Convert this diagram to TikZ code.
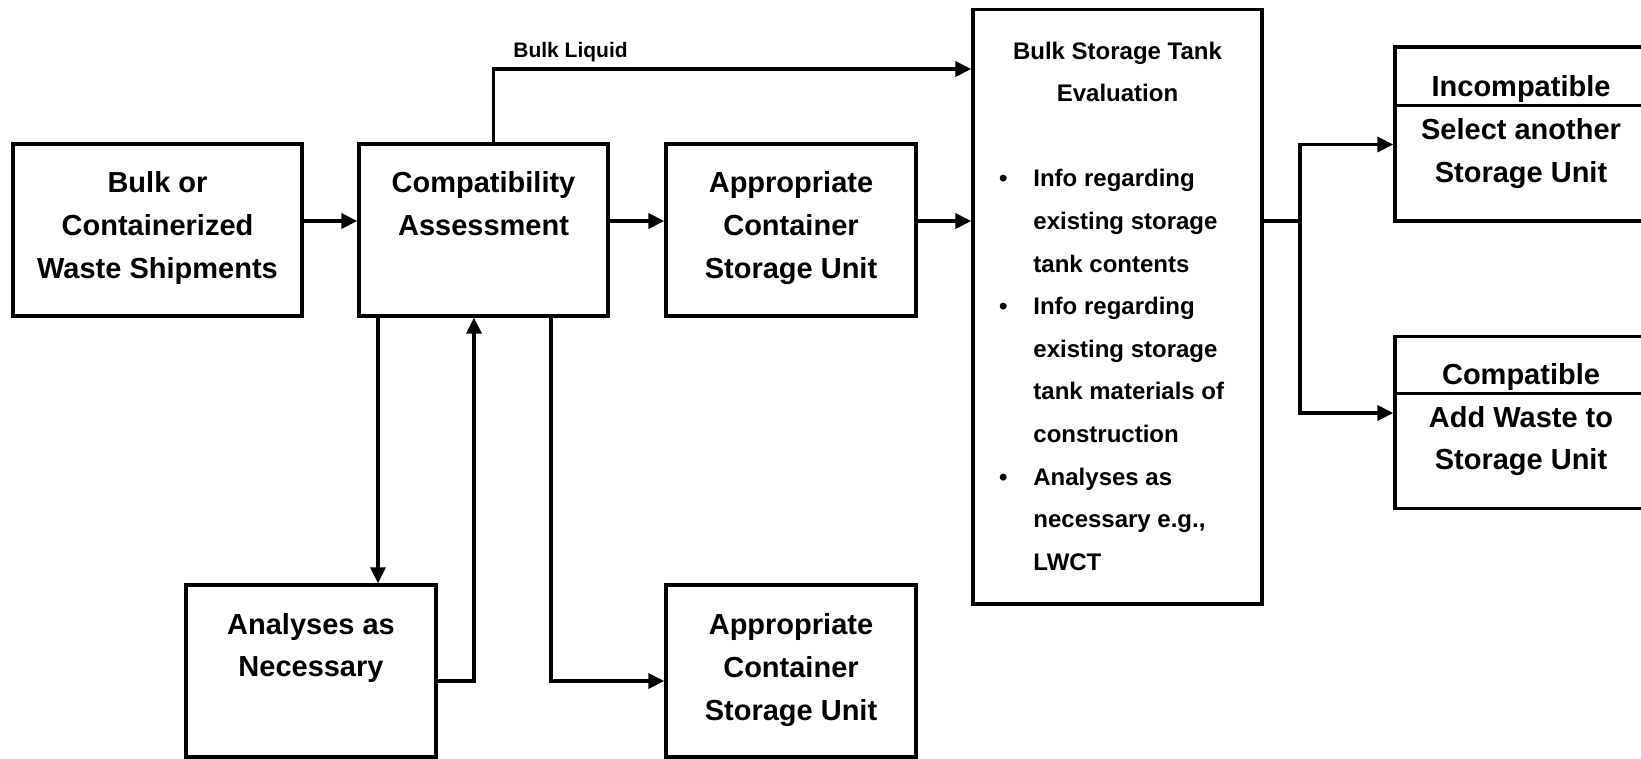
\documentclass[tikz,border=0pt]{standalone}
\usepackage{fontspec}
\setmainfont{Liberation Sans}
\usetikzlibrary{arrows.meta}
\newcommand\mystrut{\strut}
\begin{document}
\begin{tikzpicture}[x=0.5pt,y=-0.5pt,
  box/.style={draw, line width=1.65pt, rectangle, inner sep=0pt},
  big/.style={font=\fontsize{14.5pt}{21.35pt}\selectfont\bfseries, align=center, inner sep=0pt},
  mid/.style={font=\fontsize{12pt}{21.3pt}\selectfont\bfseries, inner sep=0pt},
  small/.style={font=\fontsize{10.5pt}{13pt}\selectfont\bfseries, inner sep=0pt},
  conn/.style={line width=1.7pt},
  arr/.style={conn, -{Triangle[length=8pt,width=7.5pt]}},
]
\useasboundingbox (0,0) rectangle (1641,759);

% boxes
\node[box, minimum width=144.5pt, minimum height=86pt] (b1) at (157.5,230) {};
\node[box, minimum width=124.5pt, minimum height=86pt] (ca) at (483.5,230) {};
\node[box, minimum width=125pt, minimum height=86pt] (ap1) at (791,230) {};
\node[box, minimum width=125pt, minimum height=86pt] (ap2) at (791,671) {};
\node[box, minimum width=125pt, minimum height=86pt] (an) at (311,671) {};
\node[box, minimum width=144.5pt, minimum height=297.3pt] (bst) at (1117.5,306.7) {};
\node[box, minimum width=126pt, minimum height=87pt] (inc) at (1521,134) {};
\node[box, minimum width=126pt, minimum height=86pt] (cmp) at (1521,422.5) {};

% helper coordinates
\coordinate (yrow) at (0,221);
\coordinate (ydivA) at (0,105.7);
\coordinate (ydivB) at (0,393.5);
\coordinate (yinc) at (0,144.5);
\coordinate (ycmp) at (0,413);
\coordinate (jn) at (1300,221);
\coordinate (xbl) at (493.4,69);
\coordinate (xdown) at (378,0);
\coordinate (xup) at (474,681);
\coordinate (xside) at (551,681);

% dividers
\draw[line width=1.65pt] (inc.west |- ydivA) -- (inc.east |- ydivA);
\draw[line width=1.65pt] (cmp.west |- ydivB) -- (cmp.east |- ydivB);

% texts
\node[big] (t1) at (157.5,227) {\mystrut Bulk or\\\mystrut Containerized\\\mystrut Waste Shipments};
\node[big] (tca) at (483.5,205.5) {\mystrut Compatibility\\\mystrut Assessment};
\node[big] (tap1) at (791,227) {\mystrut Appropriate\\\mystrut Container\\\mystrut Storage Unit};
\node[big] (tan) at (311,647) {\mystrut Analyses as\\\mystrut Necessary};
\node[big] (tap2) at (791,669) {\mystrut Appropriate\\\mystrut Container\\\mystrut Storage Unit};
\node[big] (tinch) at (1521,88) {\mystrut Incompatible};
\node[big] (tincb) at (1521,152.3) {\mystrut Select another\\\mystrut Storage Unit};
\node[big] (tcmph) at (1521,375.6) {\mystrut Compatible};
\node[big] (tcmpb) at (1521,440) {\mystrut Add Waste to\\\mystrut Storage Unit};
\node[mid, align=center] (tbst) at (1117.5,72) {\mystrut Bulk Storage Tank\\\mystrut Evaluation};
\node[mid, align=left, anchor=west] (tlist) at (1033,370) {%
\mystrut\llap{\textbullet\hspace{13pt}}Info regarding\\
\mystrut existing storage\\
\mystrut tank contents\\
\mystrut\llap{\textbullet\hspace{13pt}}Info regarding\\
\mystrut existing storage\\
\mystrut tank materials of\\
\mystrut construction\\
\mystrut\llap{\textbullet\hspace{13pt}}Analyses as\\
\mystrut necessary e.g.,\\
\mystrut LWCT};
\node[small, anchor=west] (tbl) at (513,52) {Bulk Liquid};

% connectors
\draw[arr] (b1.east |- yrow) -- (ca.west |- yrow);
\draw[arr] (ca.east |- yrow) -- (ap1.west |- yrow);
\draw[arr] (ap1.east |- yrow) -- (bst.west |- yrow);
\draw[conn] (bst.east |- yrow) -- (jn);
\draw[arr] (jn) |- (inc.west |- yinc);
\draw[arr] (jn) |- (cmp.west |- ycmp);
\draw[arr] (ca.north -| xbl) |- (bst.west |- xbl);
\draw[arr] (ca.south -| xdown) -- (an.north -| xdown);
\draw[arr] (an.east |- xup) -| (ca.south -| xup);
\draw[arr] (ca.south -| xside) |- (ap2.west |- xside);
\end{tikzpicture}
\end{document}
